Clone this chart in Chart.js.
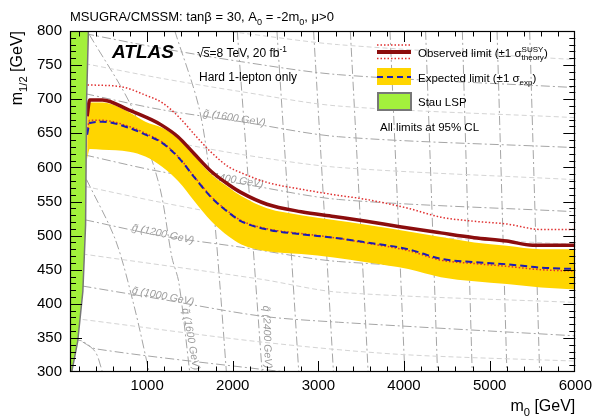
<!DOCTYPE html>
<html>
<head>
<meta charset="utf-8">
<script src="https://cdn.jsdelivr.net/npm/chart.js@4.4.1/dist/chart.umd.min.js"></script>
<style>
    html, body { margin: 0; padding: 0; background: #fff; }
</style>
</head>
<body>
<canvas id="grafico" width="597" height="416"></canvas>
<script>
// Valores (m0, m1/2 em GeV)
const xTicks = [1000, 2000, 3000, 4000, 5000, 6000];
const yTicks = [300, 350, 400, 450, 500, 550, 600, 650, 700, 750, 800];

// Limite observado
const obsM0 = [300, 330, 480, 790, 1050, 1170, 1360, 1550, 1750, 1950, 2100, 2400, 2800, 3180, 3560, 3950, 4430, 4820, 5200, 5500, 6000];
const obsM12 = [675, 699, 699, 684, 670, 662, 645, 620, 594, 575, 563, 546, 535, 528, 521, 513, 504, 497, 492, 486, 486];

// Observado +1 sigma teoria
const obsUpM0 = [305, 710, 980, 1175, 1370, 1555, 1750, 1950, 2100, 2400, 2800, 3180, 3560, 4050, 4430, 4820, 5200, 5600, 6000];
const obsUpM12 = [721, 718, 706, 695, 674, 648, 622, 601, 592, 578, 568, 560, 553, 540, 527, 521, 517, 509, 509];

// Esperado, observado -1 sigma e banda +-1 sigma exp (mesmos m0)
const expM0 = [300, 330, 480, 790, 980, 1175, 1370, 1555, 1750, 1950, 2100, 2400, 2800, 3180, 3560, 4050, 4430, 4820, 5200, 5600, 6000];
const expM12 = [648, 665, 667, 658, 648, 636, 614, 585, 556, 534, 521, 509, 502, 497, 490, 480, 466, 461, 458, 453, 451];
const obsDnM12 = [652, 669, 669, 660, 650, 637, 615, 586, 557, 535, 522, 510, 503, 497, 489, 478, 464, 459, 455, 450, 448];
const bandaUpM12 = [688, 695, 695, 681, 667, 658, 641, 616, 590, 571, 558, 540, 530, 523, 516, 506, 498, 490, 485, 480, 480];
const bandaDnM12 = [612, 627, 626, 623, 616, 601, 579, 550, 521, 499, 487, 477, 473, 468, 461, 451, 439, 433, 429, 424, 421];

// Regiao Stau LSP
const stauM0 = [100, 120, 190, 250, 282, 294, 315, 100];
const stauM12 = [300, 300, 345, 418, 516, 700, 800, 800];

// Linhas de massa constante do gluino
const gluinoMass = [800, 900, 1000, 1100, 1200, 1300, 1400, 1500, 1600, 1700, 1800, 1900];
const gluinoM0 = [
    [248, 398, 2331, 2800],
    [248, 2331, 3929, 6000],
    [248, 1150, 2331, 3234, 6000],
    [248, 2331, 3234, 6000],
    [280, 1150, 2100, 3234, 6000],
    [280, 1150, 2100, 3234, 6000],
    [280, 1150, 2100, 3234, 6000],
    [280, 1150, 2100, 3234, 6000],
    [280, 1150, 2100, 3234, 6000],
    [280, 1150, 2100, 3234, 6000],
    [280, 1150, 2100, 3234, 6000],
    [1150, 2100, 3234, 6000]
];
const gluinoM12 = [
    [344, 334, 304, 298],
    [377, 344, 326, 316],
    [426, 407, 382, 373, 353],
    [473, 436, 417, 402],
    [523, 500, 483, 462, 446],
    [572, 549, 527, 506, 487],
    [618, 594, 576, 553, 535],
    [665, 641, 619, 600, 582],
    [708, 685, 667, 645, 629],
    [752, 731, 711, 690, 673],
    [796, 775, 755, 736, 717],
    [810, 797, 780, 758]
];

// Linhas de massa constante do squark
const squarkMass = [800, 1200, 1600, 2000, 2400, 2800, 3200, 3600, 4000, 4400, 4800, 5200, 5600];
const squarkM0 = [
    [132, 248, 398, 479],
    [294, 630, 850, 1024],
    [329, 827, 1140, 1290, 1370, 1498],
    [1324, 1613, 1764, 1845, 1926],
    [2053, 2198, 2343],
    [2516, 2644, 2771],
    [2944, 3060, 3176],
    [3373, 3477, 3581],
    [3836, 3922, 4009],
    [4252, 4322, 4391],
    [4681, 4738, 4796],
    [5086, 5143, 5201],
    [5467, 5525, 5583]
];
const squarkM12 = [
    [348, 345, 329, 300],
    [582, 494, 396, 300],
    [794, 687, 575, 468, 432, 300],
    [800, 684, 553, 436, 300],
    [800, 553, 300],
    [800, 553, 300],
    [800, 553, 300],
    [800, 553, 300],
    [800, 553, 300],
    [800, 553, 300],
    [800, 553, 300],
    [800, 553, 300],
    [800, 553, 300]
];

// Etiquetas das linhas: [texto, m0, m1/2, angulo]
const etiquetas = [
    ['g\u0303 (1600 GeV)', 2019, 672, 9],
    ['g\u0303 (1400 GeV)', 1995, 582, 9],
    ['g\u0303 (1200 GeV)', 1185, 502, 12],
    ['g\u0303 (1000 GeV)', 1185, 411, 11],
    ['q\u0303 (1600 GeV)', 1509, 348, 80],
    ['q\u0303 (2400 GeV)', 2400, 351, 88]
];

const FONTE = '"Liberation Sans", Arial, Helvetica, sans-serif';

function pontos(xs, ys) {
    return xs.map((x, i) => ({x: x, y: ys[i]}));
}

/*
 * Escreve texto com indices e expoentes.
 */
function textoRico(ctx, partes, x, y, tam, alinha, estilo) {
    estilo = estilo || '';
    var pequeno = tam * 0.7;
    var medir = function (p) {
        if (p.ss) {
            ctx.font = estilo + pequeno + 'px ' + FONTE;
            return Math.max(ctx.measureText(p.ss[0]).width, ctx.measureText(p.ss[1]).width);
        }
        ctx.font = estilo + (p.k ? pequeno : tam) + 'px ' + FONTE;
        return ctx.measureText(p.t).width;
    };
    var total = 0;
    for (let p of partes) total += medir(p);
    var cx = alinha === 'right' ? x - total : x;
    ctx.textAlign = 'left';
    ctx.textBaseline = 'alphabetic';
    for (let p of partes) {
        var w = medir(p);
        if (p.ss) {
            ctx.fillText(p.ss[0], cx, y - tam * 0.45);
            ctx.fillText(p.ss[1], cx, y + tam * 0.3);
        } else {
            var dy = p.k === 'sub' ? tam * 0.3 : (p.k === 'sup' ? -tam * 0.45 : 0);
            ctx.fillText(p.t, cx, y + dy);
        }
        cx += w;
    }
    return total;
}

function linha(ctx, x1, y1, x2, y2) {
    ctx.beginPath();
    ctx.moveTo(x1, y1);
    ctx.lineTo(x2, y2);
    ctx.stroke();
}

const decoracao = {
    id: 'decoracao',
    beforeDraw(chart) {
        const ctx = chart.ctx;
        ctx.save();
        ctx.fillStyle = '#fff';
        ctx.fillRect(0, 0, chart.width, chart.height);
        ctx.restore();
    },
    beforeDatasetsDraw(chart) {
        // etiquetas cinzentas por baixo das curvas
        const ctx = chart.ctx, xs = chart.scales.x, ys = chart.scales.y;
        ctx.save();
        ctx.font = 'italic 10.5px ' + FONTE;
        ctx.fillStyle = '#9c9c9c';
        ctx.textAlign = 'center';
        ctx.textBaseline = 'middle';
        for (let e of etiquetas) {
            ctx.save();
            ctx.translate(xs.getPixelForValue(e[1]), ys.getPixelForValue(e[2]));
            ctx.rotate(e[3] * Math.PI / 180);
            ctx.fillText(e[0], 0, 0);
            ctx.restore();
        }
        ctx.restore();
    },
    afterDatasetsDraw(chart) {
        // regiao Stau LSP
        const ctx = chart.ctx, xs = chart.scales.x, ys = chart.scales.y, a = chart.chartArea;
        ctx.save();
        ctx.beginPath();
        ctx.rect(a.left, a.top, a.right - a.left, a.bottom - a.top);
        ctx.clip();
        ctx.beginPath();
        for (let i = 0; i < stauM0.length; i++) {
            const px = xs.getPixelForValue(stauM0[i]), py = ys.getPixelForValue(stauM12[i]);
            if (i === 0) ctx.moveTo(px, py); else ctx.lineTo(px, py);
        }
        ctx.closePath();
        ctx.fillStyle = '#a3f03c';
        ctx.fill();
        ctx.beginPath();
        for (let i = 1; i < stauM0.length - 1; i++) {
            const px = xs.getPixelForValue(stauM0[i]), py = ys.getPixelForValue(stauM12[i]);
            if (i === 1) ctx.moveTo(px, py); else ctx.lineTo(px, py);
        }
        ctx.strokeStyle = '#777';
        ctx.lineWidth = 1.5;
        ctx.stroke();
        ctx.restore();
    },
    afterDraw(chart) {
        const ctx = chart.ctx, xs = chart.scales.x, ys = chart.scales.y, a = chart.chartArea;
        ctx.save();
        ctx.strokeStyle = '#000';
        ctx.lineWidth = 1;
        // marcas dos eixos em todos os lados
        for (let v = 200; v < 6000; v += 200) {
            const px = Math.round(xs.getPixelForValue(v)) + 0.5;
            const len = v % 1000 === 0 ? 11 : 5.5;
            linha(ctx, px, a.bottom, px, a.bottom - len);
            linha(ctx, px, a.top, px, a.top + len);
        }
        for (let v = 310; v < 800; v += 10) {
            const py = Math.round(ys.getPixelForValue(v)) + 0.5;
            const len = v % 50 === 0 ? 12 : 6;
            linha(ctx, a.left, py, a.left + len, py);
            linha(ctx, a.right, py, a.right - len, py);
        }
        ctx.lineWidth = 1.2;
        ctx.strokeRect(Math.round(a.left) + 0.5, Math.round(a.top) + 0.5,
            Math.round(a.right - a.left) - 1, Math.round(a.bottom - a.top) - 1);

        ctx.fillStyle = '#000';
        // titulo
        textoRico(ctx, [{t: 'MSUGRA/CMSSM: tan\u03b2 = 30, A'}, {t: '0', k: 'sub'}, {t: ' = -2m'}, {t: '0', k: 'sub'}, {t: ', \u03bc>0'}], 70, 21, 13);
        // titulos dos eixos
        textoRico(ctx, [{t: 'm'}, {t: '0', k: 'sub'}, {t: ' [GeV]'}], a.right, 411, 16, 'right');
        ctx.save();
        ctx.translate(22, a.top);
        ctx.rotate(-Math.PI / 2);
        textoRico(ctx, [{t: 'm'}, {t: '1/2', k: 'sub'}, {t: ' [GeV]'}], 0, 0, 16, 'right');
        ctx.restore();

        // ATLAS e textos
        textoRico(ctx, [{t: 'ATLAS'}], 112, 58, 19, 'left', 'italic bold ');
        ctx.font = '12px ' + FONTE;
        var wRaiz = ctx.measureText('\u221a').width;
        var wS = ctx.measureText('s').width;
        textoRico(ctx, [{t: '\u221as=8 TeV, 20 fb'}, {t: '-1', k: 'sup'}], 197, 57, 12);
        ctx.lineWidth = 0.9;
        linha(ctx, 197 + wRaiz - 1, 47.5, 197 + wRaiz + wS + 0.5, 47.5);
        textoRico(ctx, [{t: 'Hard 1-lepton only'}], 199, 81, 12);

        // legenda
        ctx.lineWidth = 4;
        ctx.strokeStyle = '#8b0d0d';
        linha(ctx, 377, 52, 411, 52);
        ctx.lineWidth = 1.5;
        ctx.strokeStyle = '#e03030';
        ctx.setLineDash([1.5, 2]);
        linha(ctx, 377, 45, 411, 45);
        linha(ctx, 377, 58.5, 411, 58.5);
        ctx.setLineDash([]);
        ctx.fillStyle = '#ffd500';
        ctx.fillRect(377, 68, 34, 17);
        ctx.strokeStyle = '#1c1cb4';
        ctx.lineWidth = 2;
        ctx.setLineDash([6, 4]);
        linha(ctx, 377, 77, 411, 77);
        ctx.setLineDash([]);
        ctx.fillStyle = '#a3f03c';
        ctx.fillRect(378, 93, 33, 17);
        ctx.strokeStyle = '#777';
        ctx.lineWidth = 2;
        ctx.strokeRect(378, 93, 33, 17);

        ctx.fillStyle = '#000';
        textoRico(ctx, [{t: 'Observed limit (\u00b11 \u03c3'}, {ss: ['SUSY', 'theory']}, {t: ')'}], 418, 57, 11.5);
        textoRico(ctx, [{t: 'Expected limit (\u00b11 \u03c3'}, {t: 'exp', k: 'sub'}, {t: ')'}], 418, 82, 11.5);
        textoRico(ctx, [{t: 'Stau LSP'}], 418, 106, 11.5);
        textoRico(ctx, [{t: 'All limits at 95% CL'}], 380, 131, 11.5);
        ctx.restore();
    }
};

// Datasets das curvas principais
var datasets = [
    {data: pontos(obsM0, obsM12), borderColor: '#8b0d0d', borderWidth: 3.5, order: 1, cubicInterpolationMode: 'monotone'},
    {data: pontos(obsUpM0, obsUpM12), borderColor: '#e03030', borderWidth: 1.5, borderDash: [1.5, 2], order: 2, cubicInterpolationMode: 'monotone'},
    {data: pontos(expM0, obsDnM12), borderColor: '#e03030', borderWidth: 1.5, borderDash: [1.5, 2], order: 4, cubicInterpolationMode: 'monotone'},
    {data: pontos(expM0, expM12), borderColor: '#1c1cb4', borderWidth: 2, borderDash: [7, 4], order: 3, cubicInterpolationMode: 'monotone'},
    {data: pontos(expM0, bandaUpM12), borderWidth: 0, borderColor: 'rgba(0,0,0,0)', order: 6, cubicInterpolationMode: 'monotone'},
    {data: pontos(expM0, bandaDnM12), borderWidth: 0, borderColor: 'rgba(0,0,0,0)', backgroundColor: '#ffd500', fill: 4, order: 5, cubicInterpolationMode: 'monotone'}
];

// Linhas cinzentas de fundo
for (let i = 0; i < gluinoMass.length; i++) {
    const forte = gluinoMass[i] % 200 === 0;
    datasets.push({
        data: pontos(gluinoM0[i], gluinoM12[i]),
        borderColor: forte ? '#a5a5a5' : '#d4d4d4',
        borderWidth: 1,
        borderDash: forte ? [9, 3, 2, 3] : [5, 3],
        tension: 0.3,
        order: 10
    });
}
for (let i = 0; i < squarkMass.length; i++) {
    const forte = squarkMass[i] % 400 === 0;
    datasets.push({
        data: pontos(squarkM0[i], squarkM12[i]),
        borderColor: forte ? '#a5a5a5' : '#d4d4d4',
        borderWidth: 1,
        borderDash: forte ? [9, 3, 2, 3] : [5, 3],
        tension: 0.3,
        order: 10
    });
}
for (let d of datasets) {
    d.showLine = true;
    d.pointRadius = 0;
    d.pointHoverRadius = 0;
    if (d.fill === undefined) d.fill = false;
}

const ctx = document.getElementById('grafico');
const grafico = new Chart(ctx, {
    type: 'scatter',
    data: {datasets: datasets},
    options: {
        responsive: false,
        devicePixelRatio: 1,
        animation: false,
        events: [],
        layout: {padding: {left: 0, top: 31, right: 19, bottom: 0}},
        plugins: {
            legend: {display: false},
            tooltip: {enabled: false},
            filler: {propagate: false}
        },
        scales: {
            x: {
                type: 'linear',
                min: 100,
                max: 6000,
                grid: {display: false, drawTicks: false},
                border: {display: false},
                ticks: {
                    color: '#000',
                    font: {size: 15, family: FONTE},
                    padding: 5,
                    maxRotation: 0,
                    autoSkip: false,
                    callback: v => String(v)
                },
                afterBuildTicks: s => { s.ticks = xTicks.map(v => ({value: v})); },
                afterFit: s => { s.height = 44; }
            },
            y: {
                type: 'linear',
                min: 300,
                max: 800,
                grid: {display: false, drawTicks: false},
                border: {display: false},
                ticks: {
                    color: '#000',
                    font: {size: 15, family: FONTE},
                    padding: 8,
                    autoSkip: false,
                    callback: v => String(v)
                },
                afterBuildTicks: s => { s.ticks = yTicks.map(v => ({value: v})); },
                afterFit: s => { s.width = 70; }
            }
        }
    },
    plugins: [decoracao]
});
</script>
</body>
</html>
